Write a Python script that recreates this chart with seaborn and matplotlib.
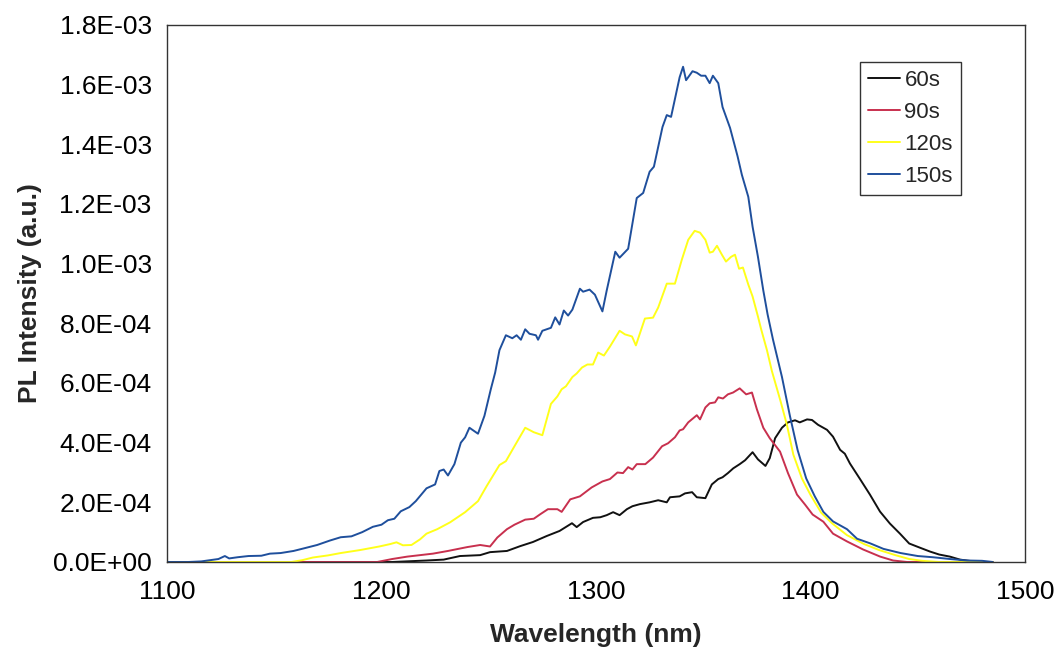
import numpy as np
import pandas as pd
import matplotlib
matplotlib.use("Agg")
import matplotlib.pyplot as plt
from matplotlib.ticker import FuncFormatter, MultipleLocator
import seaborn as sns

# ---- data (intensity in units of 1e-4 a.u.) ----
wl_60 = [1100, 1205, 1221, 1229, 1236.6, 1246, 1250.6, 1258.5, 1264.6, 1270.6, 1277, 1283,
         1288.8, 1291, 1294, 1298.6, 1302, 1305, 1308, 1311, 1314.4, 1317, 1320.5, 1325,
         1329, 1333, 1334.5, 1339, 1341.5, 1344.8, 1347, 1351, 1354, 1357, 1359, 1361.5,
         1364, 1367, 1369.5, 1373, 1375.5, 1379, 1381, 1383.5, 1386.7, 1389.5, 1392.8,
         1395, 1398.4, 1400.7, 1403.5, 1407.7, 1410.5, 1413.8, 1416, 1418.4, 1423, 1427.7,
         1432.4, 1437, 1441.7, 1446, 1451, 1455.7, 1460, 1465, 1469.7, 1478, 1485]
int_60 = [0, 0, 0.05, 0.08, 0.2, 0.23, 0.33, 0.37, 0.53, 0.67, 0.87, 1.04,
          1.3, 1.17, 1.34, 1.48, 1.5, 1.57, 1.67, 1.57, 1.77, 1.87, 1.94, 2.0,
          2.07, 2.0, 2.17, 2.2, 2.3, 2.34, 2.17, 2.14, 2.6, 2.78, 2.84, 2.98,
          3.14, 3.28, 3.41, 3.68, 3.44, 3.22, 3.48, 4.15, 4.5, 4.68, 4.75,
          4.68, 4.78, 4.76, 4.6, 4.43, 4.2, 3.76, 3.63, 3.3, 2.79, 2.26,
          1.69, 1.29, 0.95, 0.62, 0.48, 0.35, 0.25, 0.18, 0.08, 0, 0]

wl_90 = [1100, 1198, 1205, 1212, 1218, 1224, 1231, 1240, 1246, 1250.6, 1254, 1258.5, 1262,
         1267, 1271, 1274, 1277.6, 1282, 1284, 1288, 1292.5, 1298, 1303, 1306.5, 1310,
         1312.6, 1315, 1317, 1319, 1323, 1326.6, 1330.8, 1333.6, 1336.8, 1339, 1340.6,
         1343, 1347, 1348.5, 1351, 1353, 1355.5, 1357, 1359.2, 1361.5, 1363.9, 1367,
         1370, 1372.7, 1375, 1378, 1381, 1385.8, 1389.5, 1393.7, 1397.5, 1401, 1406,
         1410.5, 1417, 1424.5, 1432.5, 1438.5, 1445, 1485]
int_90 = [0, 0, 0.1, 0.18, 0.23, 0.28, 0.37, 0.5, 0.57, 0.52, 0.82, 1.1, 1.25,
          1.42, 1.45, 1.6, 1.77, 1.77, 1.68, 2.1, 2.2, 2.5, 2.7, 2.78, 3.0,
          2.98, 3.18, 3.1, 3.28, 3.28, 3.5, 3.88, 3.98, 4.18, 4.41, 4.45,
          4.68, 4.92, 4.78, 5.18, 5.32, 5.35, 5.52, 5.48, 5.62, 5.68, 5.82,
          5.62, 5.68, 5.12, 4.5, 4.15, 3.7, 2.98, 2.26, 1.92, 1.59, 1.35,
          0.95, 0.69, 0.42, 0.18, 0.05, 0, 0]

wl_120 = [1100, 1158, 1163, 1168, 1175, 1181, 1190, 1199, 1204, 1207, 1210, 1214, 1218,
          1221, 1226, 1232, 1239, 1245, 1249, 1255, 1258, 1262, 1267, 1271, 1275, 1279,
          1282, 1284, 1286, 1289, 1291, 1293.5, 1296, 1298.6, 1301, 1303.7, 1306.5, 1311,
          1313.5, 1316.8, 1318.6, 1322.8, 1326.6, 1329, 1333, 1336.8, 1340, 1343, 1346,
          1348.5, 1351, 1353, 1354.5, 1356.4, 1358.7, 1360.6, 1363, 1364.8, 1366.7,
          1368.5, 1371, 1373, 1375.5, 1377, 1379.7, 1382, 1386, 1389, 1392, 1396, 1400,
          1405, 1410, 1417, 1425, 1432, 1440, 1446, 1452, 1460, 1485]
int_120 = [0, 0, 0.06, 0.15, 0.22, 0.3, 0.4, 0.52, 0.6, 0.66, 0.56, 0.57, 0.76,
           0.95, 1.1, 1.33, 1.67, 2.04, 2.54, 3.25, 3.38, 3.88, 4.5, 4.35, 4.25, 5.3,
           5.55, 5.79, 5.89, 6.2, 6.32, 6.52, 6.62, 6.62, 7.02, 6.92, 7.22, 7.75,
           7.63, 7.56, 7.26, 8.16, 8.19, 8.53, 9.33, 9.33, 10.13, 10.8, 11.1,
           11.04, 10.8, 10.37, 10.4, 10.6, 10.3, 10.07, 10.23, 10.3, 9.83,
           9.87, 9.3, 8.9, 8.23, 7.8, 7.1, 6.4, 5.4, 4.6, 3.6, 2.8, 2.25,
           1.65, 1.3, 0.9, 0.6, 0.4, 0.22, 0.1, 0.04, 0, 0]

wl_150 = [1100, 1110, 1116, 1120, 1124, 1127, 1129, 1133, 1138, 1144, 1148, 1153, 1159,
          1164, 1170, 1176, 1181, 1186, 1191, 1196, 1200, 1203, 1206, 1209, 1213, 1216,
          1221, 1225, 1227, 1229, 1231, 1234, 1237, 1239, 1241, 1244, 1245, 1248, 1251,
          1253, 1255, 1258, 1261, 1263, 1265, 1267, 1269, 1272, 1273, 1275, 1279, 1281,
          1283, 1285, 1287, 1289, 1292.5, 1294, 1297, 1299.5, 1303, 1305, 1309, 1311,
          1315, 1319, 1322, 1325, 1327, 1331, 1333, 1335, 1339, 1340.6, 1342, 1345, 1347,
          1349, 1351, 1353, 1354.5, 1357, 1359, 1362.5, 1366, 1368, 1371, 1373, 1375.5,
          1378, 1380, 1382.5, 1386.7, 1390.4, 1394, 1398, 1402, 1406, 1410.5, 1417,
          1421.7, 1428, 1434, 1442, 1450, 1457, 1465, 1473, 1480, 1485]
int_150 = [0, 0, 0.02, 0.06, 0.1, 0.2, 0.12, 0.16, 0.2, 0.21, 0.28, 0.3, 0.37,
           0.46, 0.57, 0.72, 0.83, 0.86, 1.0, 1.18, 1.25, 1.4, 1.45, 1.7, 1.84, 2.04,
           2.47, 2.6, 3.05, 3.1, 2.9, 3.28, 4.0, 4.18, 4.5, 4.35, 4.3, 4.9, 5.8,
           6.35, 7.1, 7.6, 7.5, 7.6, 7.45, 7.8, 7.65, 7.6, 7.45, 7.75, 7.85, 8.2,
           7.96, 8.43, 8.26, 8.46, 9.16, 9.06, 9.13, 8.96, 8.4, 9.1, 10.4, 10.2,
           10.5, 12.2, 12.37, 13.08, 13.25, 14.58, 14.98, 14.92, 16.25, 16.6, 16.15, 16.45, 16.4,
           16.3, 16.3, 16.05, 16.3, 16.05, 15.25, 14.55, 13.6, 12.98, 12.24, 11.24, 10.23,
           9.1, 8.3, 7.46, 6.2, 4.9, 3.75, 2.8, 2.2, 1.68, 1.36, 1.1,
           0.78, 0.62, 0.44, 0.3, 0.2, 0.16, 0.1, 0.05, 0.04, 0]

series_labels = ["60s", "90s", "120s", "150s"]
series_colors = ["#111111", "#C8304E", "#FFFF1A", "#1F4F9C"]
x_ticks = [1100, 1200, 1300, 1400, 1500]

frames = []
for lab, wl, iv in zip(series_labels,
                       [wl_60, wl_90, wl_120, wl_150],
                       [int_60, int_90, int_120, int_150]):
    frames.append(pd.DataFrame({"Wavelength": wl,
                                "Intensity": np.array(iv) * 1e-4,
                                "Time": lab}))
df = pd.concat(frames, ignore_index=True)

# ---- style ----
sns.set_style("white")
plt.rcParams["font.family"] = ["Liberation Sans", "DejaVu Sans"]

fig = plt.figure(figsize=(10.54, 6.56), dpi=100)
ax = fig.add_axes([0.1584, 0.1433, 0.8141, 0.8186])

sns.lineplot(data=df, x="Wavelength", y="Intensity", hue="Time",
             hue_order=series_labels, palette=series_colors,
             estimator=None, sort=True, linewidth=1.4, ax=ax, legend=True)

ax.set_xlim(1100, 1500)
ax.set_ylim(0, 1.8e-3)
ax.set_xticks(x_ticks)
ax.yaxis.set_major_locator(MultipleLocator(2e-4))
ax.yaxis.set_major_formatter(FuncFormatter(lambda v, p: f"{v:.1E}"))

for s in ax.spines.values():
    s.set_visible(True)
    s.set_color("#333333")
    s.set_linewidth(1.0)

ax.tick_params(axis="both", direction="in", length=5, width=1.0,
               colors="#333333", labelcolor="black", labelsize=19)
ax.tick_params(axis="y", pad=11)
ax.tick_params(axis="x", pad=13)

ax.set_xlabel("Wavelength (nm)", fontsize=19, fontweight="bold", labelpad=14)
ax.set_ylabel("PL Intensity (a.u.)", fontsize=19, fontweight="bold", labelpad=8)

leg = ax.legend(loc="upper left", bbox_to_anchor=(860 / 1054, 1 - 62 / 656),
                bbox_transform=fig.transFigure, borderaxespad=0,
                fontsize=16, frameon=True, fancybox=False, shadow=False,
                framealpha=1, edgecolor="#333333", handlelength=1.45,
                handletextpad=0.2, labelspacing=0.5, borderpad=0.35)
leg.get_frame().set_linewidth(1.0)
for line in leg.get_lines():
    line.set_linewidth(1.4)

fig.savefig("out.png", dpi=100)
